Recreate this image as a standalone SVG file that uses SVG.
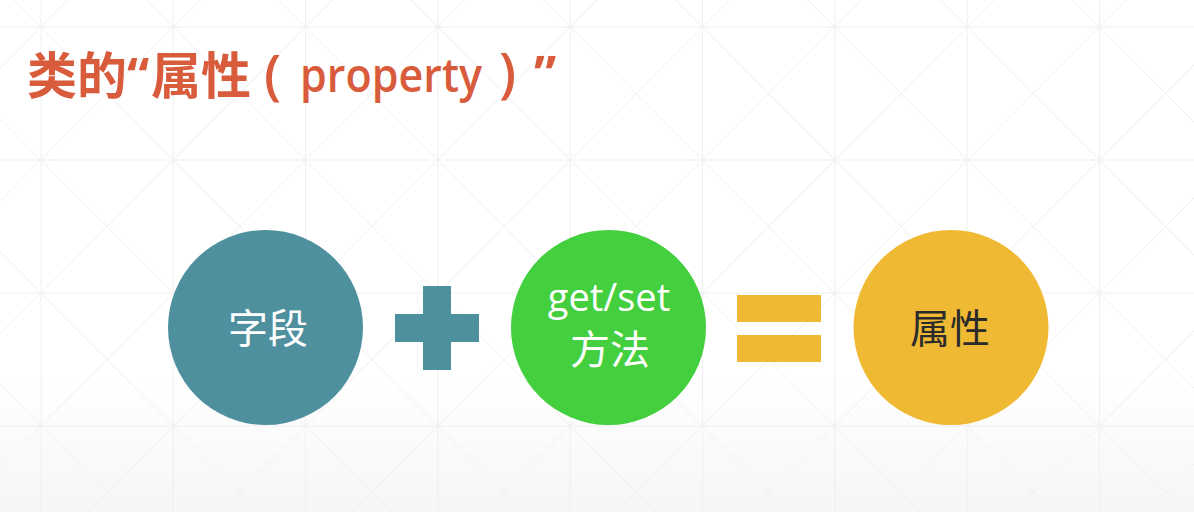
<svg xmlns="http://www.w3.org/2000/svg" width="1194" height="512" viewBox="0 0 1194 512">
  <defs>
    <linearGradient id="bgFade" x1="0" y1="0" x2="0" y2="1">
      <stop offset="0" stop-color="#ffffff"/>
      <stop offset="0.74" stop-color="#ffffff"/>
      <stop offset="1" stop-color="#f6f6f6"/>
    </linearGradient>
    <style>
      .grid { fill: none; stroke: #efefef; stroke-width: 1; }
      .title { font-family: "Noto Sans CJK SC", sans-serif; font-weight: 700; font-size: 50px; fill: #d85b3c; }
      .latin { font-family: "Open Sans", "Noto Sans", sans-serif; }
      .label { font-family: "Noto Sans CJK SC", sans-serif; font-size: 40px; text-anchor: middle; }
      .labelLatin { font-family: "Open Sans", "Noto Sans", sans-serif; font-size: 38px; text-anchor: middle; }
      .teal { fill: #4f909f; }
      .green { fill: #43cf3e; }
      .gold { fill: #f0b934; }
    </style>
  </defs>

  <!-- background with light lattice -->
  <rect width="1194" height="512" fill="url(#bgFade)"/>
  <g id="background-grid" class="grid">
    <!-- vertical lines -->
    <path d="M41 0V512M173.3 0V512M305.6 0V512M437.9 0V512M570.2 0V512M702.5 0V512M834.8 0V512M967.1 0V512M1099.4 0V512"/>
    <!-- horizontal lines -->
    <path d="M0 27H1194M0 160H1194M0 293H1194M0 426H1194"/>
    <!-- rising diagonals -->
    <path d="M-525 -10L4.2 522M-392.7 -10L136.5 522M-260.4 -10L268.8 522M-128.1 -10L401.1 522M4.2 -10L533.4 522M136.5 -10L665.7 522M268.8 -10L798 522M401.1 -10L930.3 522M533.4 -10L1062.6 522M665.7 -10L1194.9 522M798 -10L1327.2 522M930.3 -10L1459.5 522M1062.6 -10L1591.8 522"/>
    <!-- falling diagonals -->
    <path d="M77.8 -10L-451.4 522M210.1 -10L-319.1 522M342.4 -10L-186.8 522M474.7 -10L-54.5 522M607 -10L77.8 522M739.3 -10L210.1 522M871.6 -10L342.4 522M1003.9 -10L474.7 522M1136.2 -10L607 522M1268.5 -10L739.3 522M1400.8 -10L871.6 522M1533.1 -10L1003.9 522M1665.4 -10L1136.2 522"/>
  </g>

  <!-- heading -->
  <text id="title" class="title" y="94"><tspan x="27">类的</tspan><tspan class="latin" x="127">“</tspan><tspan x="151">属性</tspan><tspan class="latin" x="264" font-weight="600" font-size="54">(</tspan><tspan class="latin" x="300" y="92" font-weight="600" font-size="47" textLength="182" lengthAdjust="spacingAndGlyphs">property</tspan><tspan class="latin" x="499" font-weight="600" font-size="54">)</tspan><tspan class="latin" x="534">”</tspan></text>

  <!-- field -->
  <g id="node-field">
    <circle class="teal" cx="265.5" cy="327.5" r="97.5"/>
    <text class="label" x="268" y="343" fill="#ffffff">字段</text>
  </g>

  <!-- plus sign -->
  <g id="op-plus" class="teal">
    <rect x="395" y="314" width="84" height="28"/>
    <rect x="423" y="286" width="28" height="84"/>
  </g>

  <!-- get/set methods -->
  <g id="node-accessors">
    <circle class="green" cx="608.5" cy="327.5" r="97.5"/>
    <text class="labelLatin" x="609" y="311" fill="#ffffff">get/set</text>
    <text class="label" x="610" y="364" fill="#ffffff">方法</text>
  </g>

  <!-- equals sign -->
  <g id="op-equals" class="gold">
    <rect x="737" y="295" width="84" height="27"/>
    <rect x="737" y="335" width="84" height="27"/>
  </g>

  <!-- property -->
  <g id="node-property">
    <circle class="gold" cx="951" cy="327.5" r="97.5"/>
    <text class="label" x="950" y="343" fill="#2b2b2b">属性</text>
  </g>
</svg>
